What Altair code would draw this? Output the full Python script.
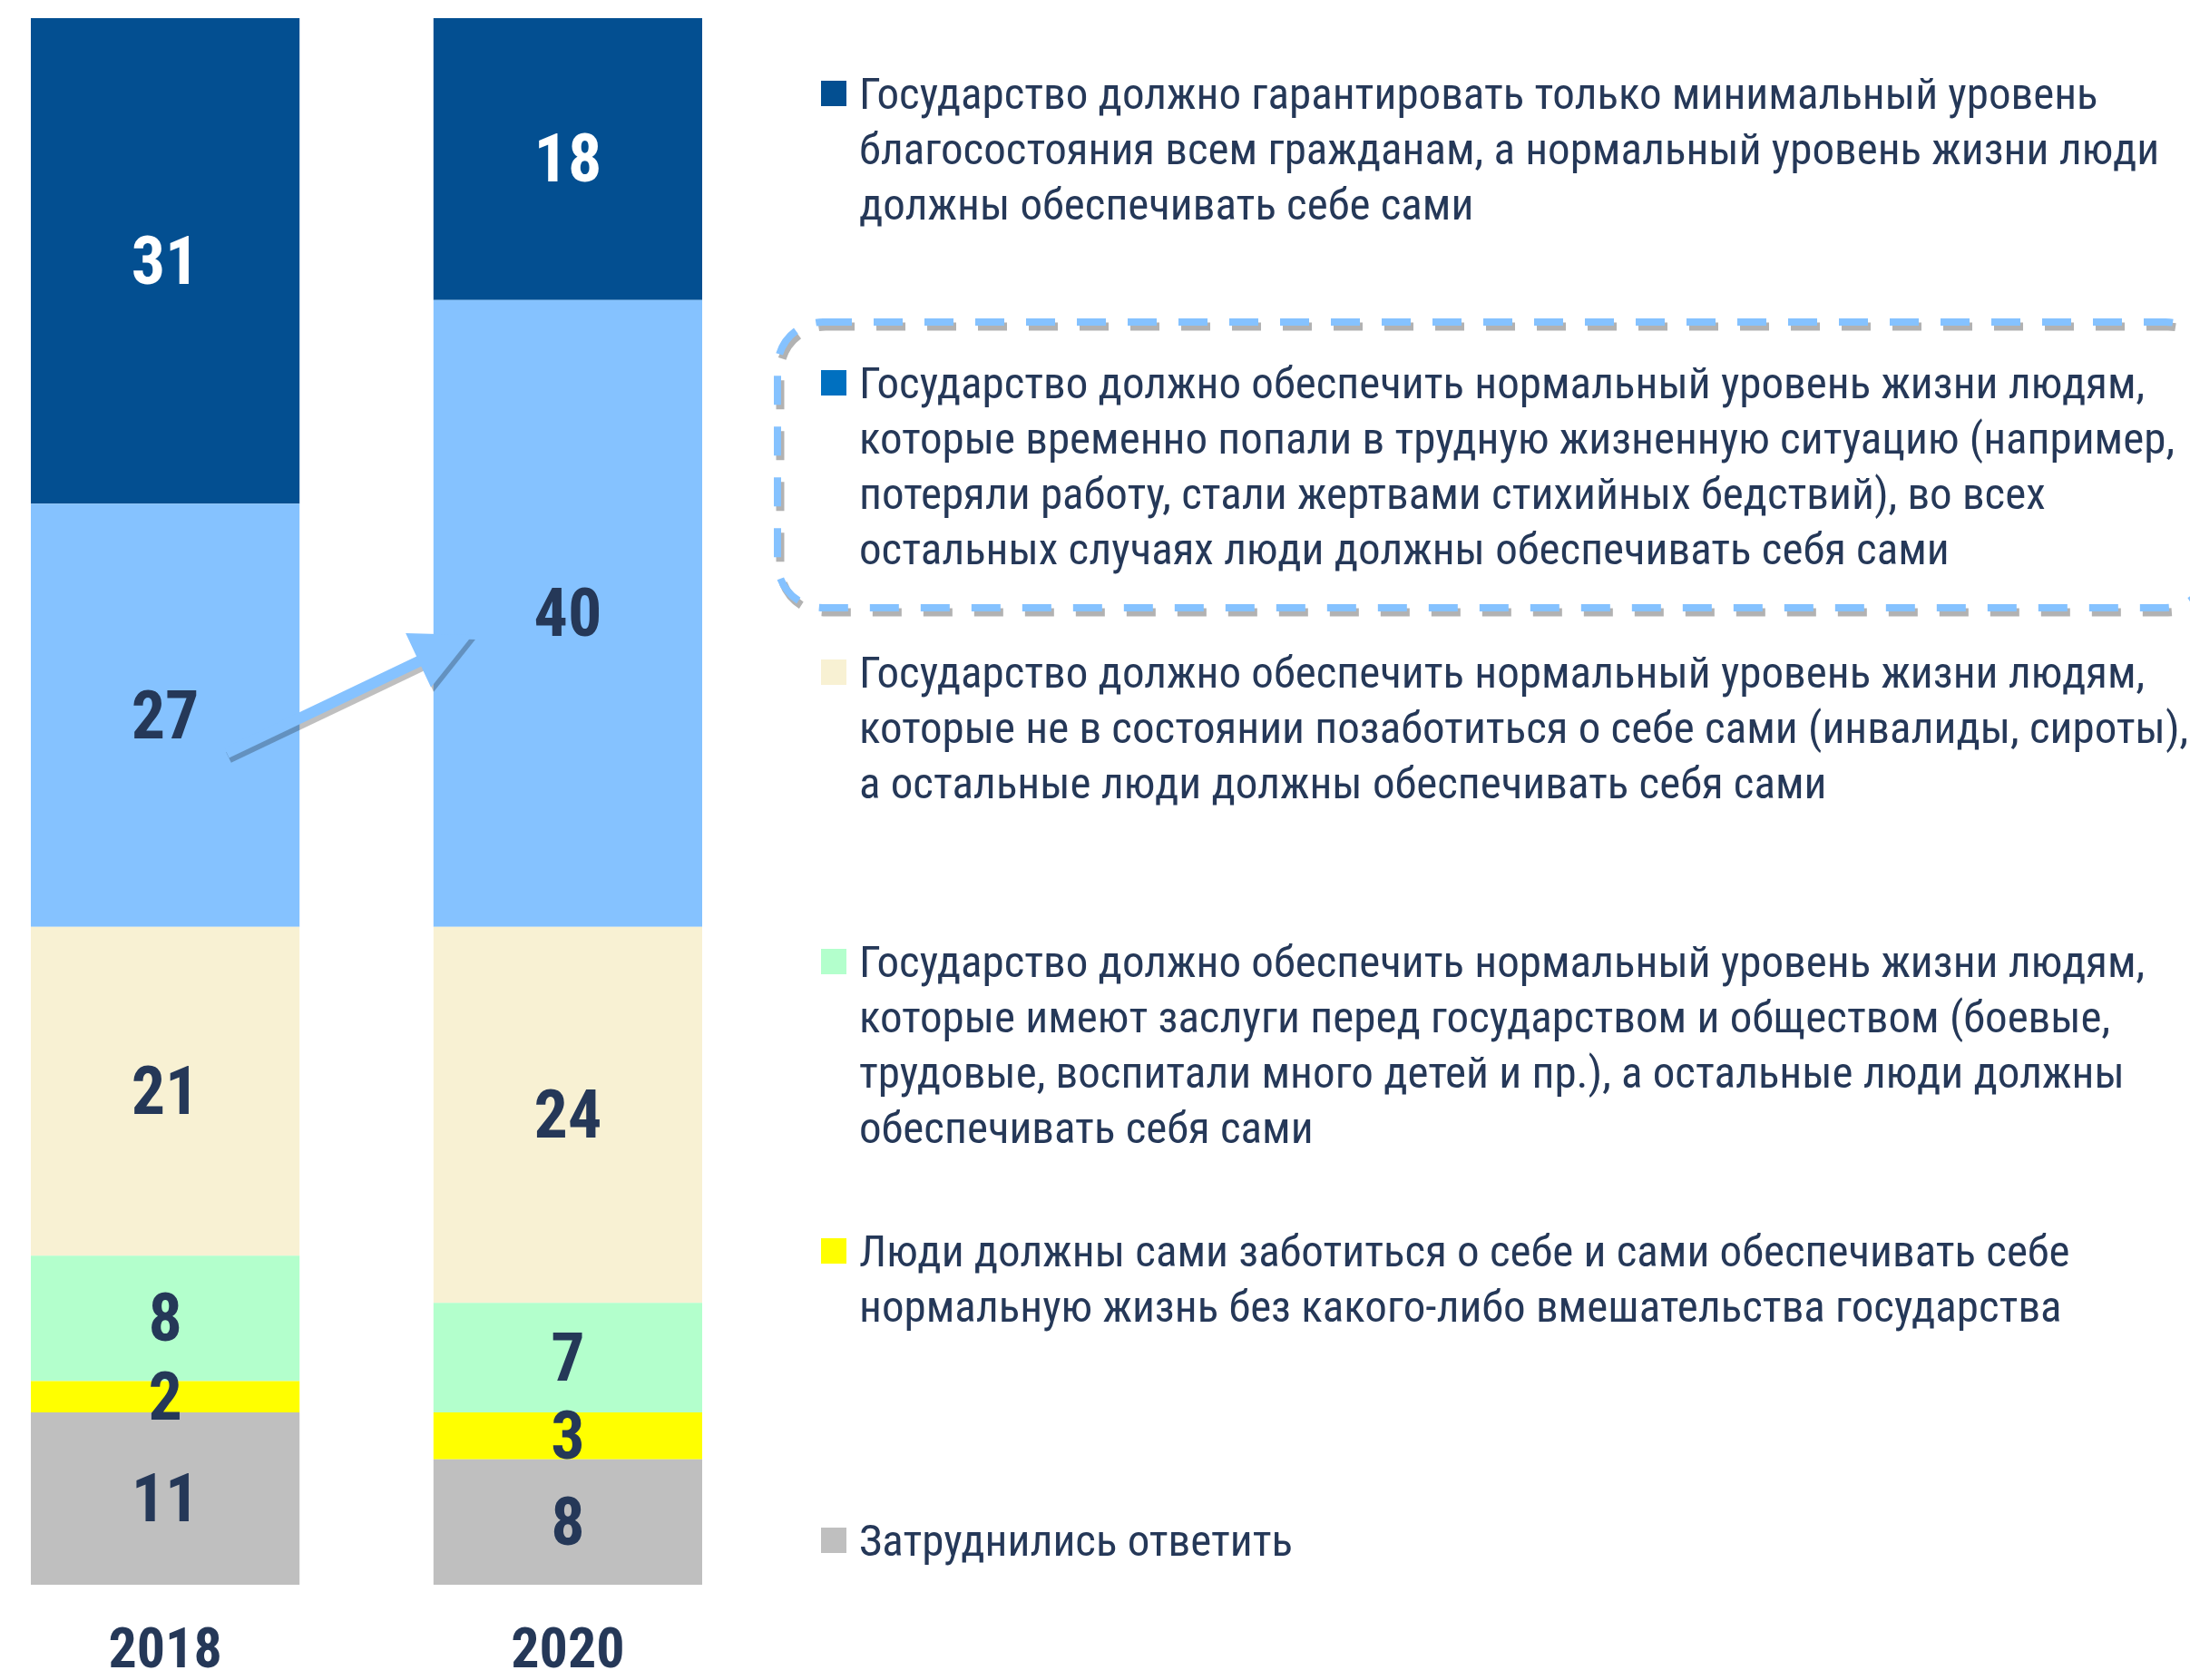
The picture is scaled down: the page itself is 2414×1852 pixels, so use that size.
import altair as alt
import pandas as pd

years = ['2018', '2020']
categories = [
    "Государство должно гарантировать только минимальный уровень\nблагосостояния всем гражданам, а нормальный уровень жизни люди\nдолжны обеспечивать себе сами",
    "Государство должно обеспечить нормальный уровень жизни людям,\nкоторые временно попали в трудную жизненную ситуацию (например,\nпотеряли работу, стали жертвами стихийных бедствий), во всех\nостальных случаях люди должны обеспечивать себя сами",
    "Государство должно  обеспечить нормальный уровень жизни людям,\nкоторые не в состоянии позаботиться о себе сами (инвалиды, сироты),\nа остальные люди должны обеспечивать себя сами",
    "Государство должно  обеспечить нормальный уровень жизни людям,\nкоторые имеют заслуги перед государством и обществом (боевые,\nтрудовые, воспитали много детей и пр.), а остальные люди должны\nобеспечивать себя сами",
    "Люди должны сами заботиться о себе и сами обеспечивать себе\nнормальную жизнь без какого-либо вмешательства государства",
    "Затруднились ответить",
]
values_2018 = [31, 27, 21, 8, 2, 11]
values_2020 = [18, 40, 24, 7, 3, 8]

bar_colors = ['#034F91', '#85C2FF', '#F8F1D3', '#B3FFCC', '#FFFF00', '#BFBFBF']
swatch_colors = ['#034F91', '#0070C0', '#F8F1D3', '#B3FFCC', '#FFFF00', '#BFBFBF']
NAVY = '#253858'
LIGHT = '#85C2FF'
FONT = 'Roboto Condensed, PT Sans Narrow, DejaVu Sans Condensed, sans-serif'

rows = []
for y, vals in zip(years, [values_2018, values_2020]):
    for k, (c, v) in enumerate(zip(categories, vals)):
        rows.append({'year': y, 'cat': c, 'idx': k, 'order': len(categories) - 1 - k, 'value': v})
bars_df = pd.DataFrame(rows)
legend_df = pd.DataFrame({'cat': categories, 'idx': list(range(len(categories)))})
years_df = pd.DataFrame({'year': years})
one = pd.DataFrame({'a': [0]})

xscale = alt.Scale(domain=years, range=[34, 774], paddingInner=0.3326, paddingOuter=0)
yscale = alt.Scale(domain=[0, 100], range=[1747, 20], nice=False, zero=True)
lscale = alt.Scale(domain=[0, 5], range=[120, 1715], nice=False, zero=False)

base = alt.Chart(bars_df).transform_stack(
    stack='value', groupby=['year'], sort=[alt.SortField('order', order='ascending')], as_=['y0', 'y1']
).transform_calculate(mid='(datum.y0 + datum.y1) / 2')

bars = base.mark_bar().encode(
    x=alt.X('year:N', scale=xscale, axis=None),
    y=alt.Y('y0:Q', scale=yscale, axis=None),
    y2='y1:Q',
    color=alt.Color('cat:N', scale=alt.Scale(domain=categories, range=bar_colors), legend=None),
)

labels = base.mark_text(font=FONT, fontSize=74, fontWeight='bold', baseline='middle', dy=3).encode(
    x=alt.X('year:N', scale=xscale, axis=None),
    y=alt.Y('mid:Q', scale=yscale, axis=None),
    text='value:Q',
    color=alt.condition(alt.datum.idx == 0, alt.value('white'), alt.value(NAVY)),
)

year_labels = alt.Chart(years_df).mark_text(
    font=FONT, fontSize=62, fontWeight='bold', baseline='alphabetic', color=NAVY
).encode(
    x=alt.X('year:N', scale=xscale, axis=None),
    y=alt.value(1838),
    text='year:N',
)

legend_text = alt.Chart(legend_df).mark_text(
    font=FONT, fontSize=49, align='left', baseline='alphabetic', lineBreak='\n', lineHeight=61, color=NAVY
).encode(
    x=alt.value(947),
    y=alt.Y('idx:Q', scale=lscale, axis=None),
    text='cat:N',
)

legend_sw = alt.Chart(legend_df).mark_square(size=784, opacity=1, yOffset=-17).encode(
    x=alt.value(919),
    y=alt.Y('idx:Q', scale=lscale, axis=None),
    color=alt.Color('cat:N', scale=alt.Scale(domain=categories, range=swatch_colors), legend=None),
)

box_shadow = alt.Chart(one).mark_rect(
    fillOpacity=0, stroke='#000000', strokeOpacity=0.3, strokeWidth=9, strokeDash=[32, 24], cornerRadius=50
).encode(x=alt.value(860), x2=alt.value(2440), y=alt.value(360), y2=alt.value(675))

box = alt.Chart(one).mark_rect(
    fillOpacity=0, stroke=LIGHT, strokeWidth=8, strokeDash=[32, 24], cornerRadius=50
).encode(x=alt.value(857), x2=alt.value(2437), y=alt.value(355), y2=alt.value(670))

arrow_shadow = alt.Chart(one).mark_rule(color='#000000', opacity=0.25, strokeWidth=13, strokeCap='butt').encode(
    x=alt.value(252), y=alt.value(835), x2=alt.value(466), y2=alt.value(733)
)
head_shadow = alt.Chart(one).mark_point(
    shape='M-1,-1L1,0L-1,1Z', filled=True, size=4356, angle=335, color='#000000', opacity=0.25, strokeWidth=0
).encode(x=alt.value(494), y=alt.value(719))

arrow = alt.Chart(one).mark_rule(color=LIGHT, strokeWidth=12, strokeCap='butt').encode(
    x=alt.value(250), y=alt.value(830), x2=alt.value(464), y2=alt.value(728)
)
head = alt.Chart(one).mark_point(
    shape='M-1,-1L1,0L-1,1Z', filled=True, size=4356, angle=335, color=LIGHT, opacity=1, strokeWidth=0
).encode(x=alt.value(491), y=alt.value(714))

chart = alt.layer(
    bars, labels, year_labels, arrow_shadow, head_shadow, arrow, head,
    box_shadow, box, legend_sw, legend_text
).resolve_scale(
    y='independent', color='independent'
).properties(
    width=2414, height=1852, padding=0, background='white',
    autosize=alt.AutoSizeParams(type='none')
).configure_view(stroke=None)

chart.save('out.html', embed_options={'renderer': 'svg', 'actions': False})
